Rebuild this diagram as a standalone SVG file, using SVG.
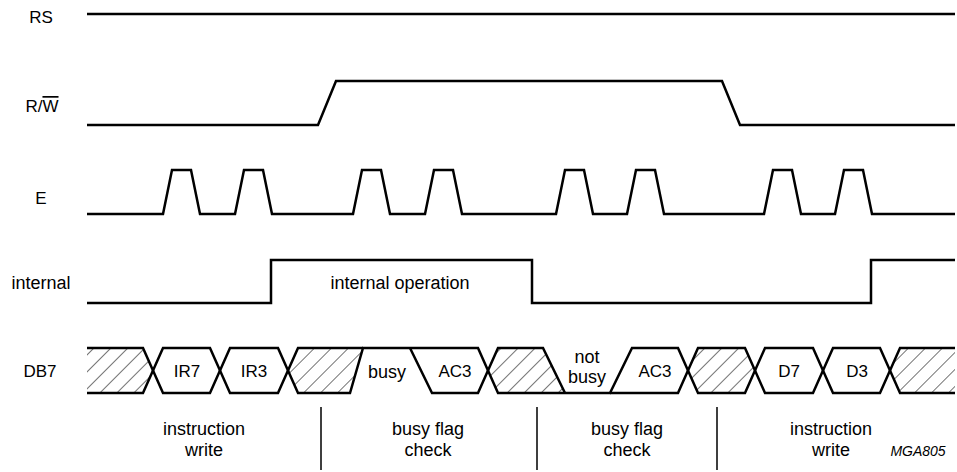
<svg xmlns="http://www.w3.org/2000/svg" width="957" height="472" viewBox="0 0 957 472">
<style>
.sig{fill:none;stroke:#000;stroke-width:2.5;stroke-linejoin:miter}
.sep{fill:none;stroke:#000;stroke-width:1.5}
.t{font-family:"Liberation Sans",Arial,sans-serif;font-size:17px;fill:#000;text-anchor:middle}
.tl{font-family:"Liberation Sans",Arial,sans-serif;font-size:18px;fill:#000;text-anchor:middle}
.id{font-family:"Liberation Sans",Arial,sans-serif;font-size:14px;font-style:italic;fill:#000;text-anchor:middle}
.h{fill:url(#hatch);stroke:none}
</style>
<defs>
<pattern id="hatch" width="12" height="12" patternUnits="userSpaceOnUse" patternTransform="rotate(45)">
<line x1="0" y1="0" x2="0" y2="12" stroke="#000" stroke-width="1.1"/>
</pattern>
</defs>
<rect width="957" height="472" fill="#fff"/>
<g id="RS">
<text class="t" x="41" y="23">RS</text>
<path class="sig" d="M87,14 H955"/>
</g>
<g id="RW">
<text class="t" x="42" y="112">R/<tspan text-decoration="overline">W</tspan></text>
<path class="sig" d="M87,125 H318 L336,81 H722 L740,125 H955"/>
</g>
<g id="E">
<text class="t" x="41" y="204">E</text>
<path class="sig" d="M87,214 H163 L172,170 H191 L200,214 H235 L244,170 H263 L272,214 H353 L362,170 H381 L390,214 H425 L434,170 H453 L462,214 H556 L565,170 H584 L593,214 H627 L636,170 H655 L664,214 H764 L773,170 H792 L801,214 H835 L844,170 H863 L872,214 H955"/>
</g>
<g id="internal">
<text class="tl" x="41" y="289">internal</text>
<path class="sig" d="M87,303 H271 V260 H532 V303 H871 V260 H955"/>
<text class="tl" x="400" y="289">internal operation</text>
</g>
<g id="DB7">
<text class="t" x="40" y="377">DB7</text>
<polygon class="h" points="87,348 143,348 153,370.5 143,393 87,393"/>
<polygon class="h" points="288,370.5 298,348 363,348 350,393 298,393"/>
<polygon class="h" points="488,370.5 498,348 543,348 565,393 498,393"/>
<polygon class="h" points="688,370.5 698,348 745,348 755,370.5 745,393 698,393"/>
<polygon class="h" points="890,370.5 900,348 955,348 955,393 900,393"/>
<path class="sig" d="M87,348 H143 L163,393 H210 L230,348 H278 L298,393 H350 L363,348 H478 L498,393 H610 L632,348 H678 L698,393 H745 L765,348 H813 L833,393 H880 L900,348 H955"/>
<path class="sig" d="M87,393 H143 L163,348 H210 L230,393 H278 L298,348 H363"/>
<path class="sig" d="M410,348 L432,393 H478 L498,348 H543 L565,393"/>
<path class="sig" d="M610,393 H678 L698,348 H745 L765,393 H813 L833,348 H880 L900,393 H955"/>
<text class="t" x="187" y="377">IR7</text>
<text class="t" x="254" y="377">IR3</text>
<text class="tl" x="387" y="378">busy</text>
<text class="t" x="455" y="377">AC3</text>
<text class="tl" x="587" y="363">not</text>
<text class="tl" x="587" y="383">busy</text>
<text class="t" x="655" y="377">AC3</text>
<text class="t" x="789" y="377">D7</text>
<text class="t" x="857" y="377">D3</text>
</g>
<g id="phases">
<text class="tl" x="204" y="435">instruction</text>
<text class="tl" x="204" y="456">write</text>
<text class="tl" x="428" y="435">busy flag</text>
<text class="tl" x="428" y="456">check</text>
<text class="tl" x="627" y="435">busy flag</text>
<text class="tl" x="627" y="456">check</text>
<text class="tl" x="831" y="435">instruction</text>
<text class="tl" x="831" y="456">write</text>
<text class="id" x="918" y="456">MGA805</text>
</g>
<g id="connectors">
<path class="sep" d="M321,407 V470 M537,407 V470 M717,407 V470"/>
</g>
</svg>
